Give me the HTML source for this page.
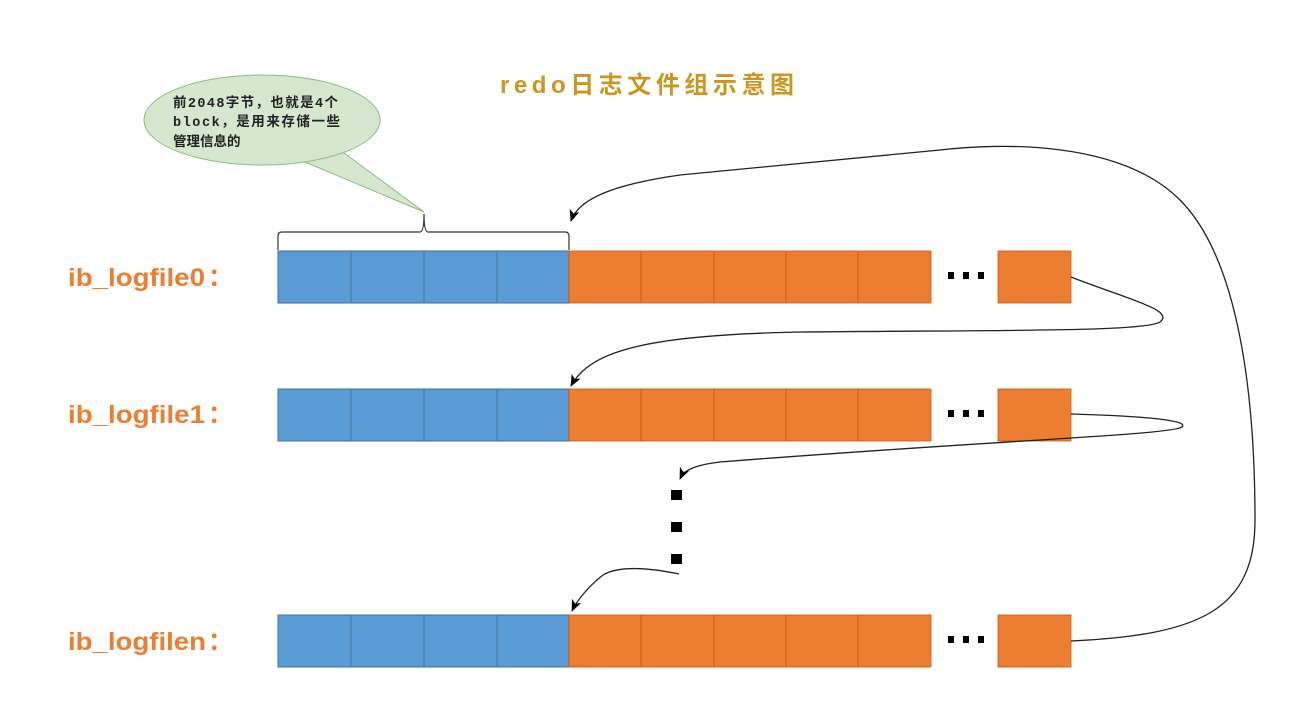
<!DOCTYPE html>
<html><head><meta charset="utf-8"><style>
html,body{margin:0;padding:0;background:#fff;}
svg{display:block}
</style></head><body>
<svg width="1293" height="715" viewBox="0 0 1293 715" xmlns="http://www.w3.org/2000/svg">
<defs>
<marker id="ar" markerWidth="14" markerHeight="14" refX="11" refY="6" orient="auto" markerUnits="userSpaceOnUse">
<path d="M0,1 L12,6 L0,11 L3,6 Z" fill="#000"/>
</marker>
</defs>
<text x="500" y="93" font-family="Liberation Sans, Noto Sans CJK SC, sans-serif" font-size="24" font-weight="bold" fill="#c9961f" letter-spacing="1" textLength="295">redo日志文件组示意图</text>

<!-- bubble -->
<path d="M340,150 L424,212 L300,160 Z" fill="#d5e8cf" stroke="#8fba7a" stroke-width="1"/>
<ellipse cx="262" cy="120" rx="118" ry="45" fill="#d5e8cf" stroke="#8fba7a" stroke-width="1"/>
<path d="M304,156 L338,150" stroke="#d5e8cf" stroke-width="3"/>
<text font-family="Liberation Mono, Noto Sans CJK SC, sans-serif" font-size="13.5" font-weight="bold" fill="#222">
<tspan x="173" y="107" textLength="165">前2048字节，也就是4个</tspan>
<tspan x="173" y="126" textLength="167">block，是用来存储一些</tspan>
<tspan x="173" y="146">管理信息的</tspan>
</text>

<!-- brace -->
<path d="M278,250 L278,236 Q278,232 282,232 L420,232 Q424,232 424,214 Q424,232 428,232 L565,232 Q569,232 569,236 L569,250" fill="none" stroke="#333" stroke-width="1.2"/>

<g font-family="Liberation Sans, Noto Sans CJK SC, sans-serif" font-size="25" font-weight="bold" fill="#ed7d31">
<text x="68" y="286" textLength="137" lengthAdjust="spacingAndGlyphs">ib_logfile0</text><text x="208" y="286">：</text>
<text x="68" y="423" textLength="137" lengthAdjust="spacingAndGlyphs">ib_logfile1</text><text x="208" y="423">：</text>
<text x="68" y="650" textLength="138" lengthAdjust="spacingAndGlyphs">ib_logfilen</text><text x="208" y="650">：</text>
</g>

<g id="row">
<g stroke="#41719c" stroke-width="1" fill="#5b9bd5">
<rect x="278" y="251" width="73" height="52"/><rect x="351" y="251" width="73" height="52"/><rect x="424" y="251" width="73" height="52"/><rect x="497" y="251" width="72" height="52"/>
</g>
<g stroke="#c55a11" stroke-width="0.8" fill="#ed7d31">
<rect x="569" y="251" width="72" height="52"/><rect x="641" y="251" width="73" height="52"/><rect x="714" y="251" width="72" height="52"/><rect x="786" y="251" width="72" height="52"/><rect x="858" y="251" width="73" height="52"/>
<rect x="998" y="251" width="73" height="52"/>
</g>
<g fill="#000"><rect x="948" y="272" width="6" height="7"/><rect x="963" y="272" width="6" height="7"/><rect x="978" y="272" width="6" height="7"/></g>
</g>
<use href="#row" y="138"/>
<use href="#row" y="364"/>

<g fill="none" stroke="#222" stroke-width="1.3">
<path d="M1071,277 C1130,300 1175,310 1160,322 C1145,332 1000,330 800,332 C650,335 590,350 571,386" marker-end="url(#ar)"/>
<path d="M1071,414 C1140,416 1190,420 1182,427 C1170,435 1000,440 720,462 C695,465 684,470 680,479" marker-end="url(#ar)"/>
<path d="M679,574 C650,568 620,565 603,575 C590,585 577,600 572,611" marker-end="url(#ar)"/>
<path d="M1071,641 C1200,635 1255,610 1255,520 C1255,400 1240,260 1180,200 C1120,140 1000,143 940,150 L680,175 C610,185 578,200 571,221" marker-end="url(#ar)"/>
</g>
<g fill="#000">
<rect x="671" y="490" width="11" height="10"/><rect x="671" y="522" width="11" height="10"/><rect x="671" y="554" width="11" height="10"/>
</g>
</svg>
</body></html>
